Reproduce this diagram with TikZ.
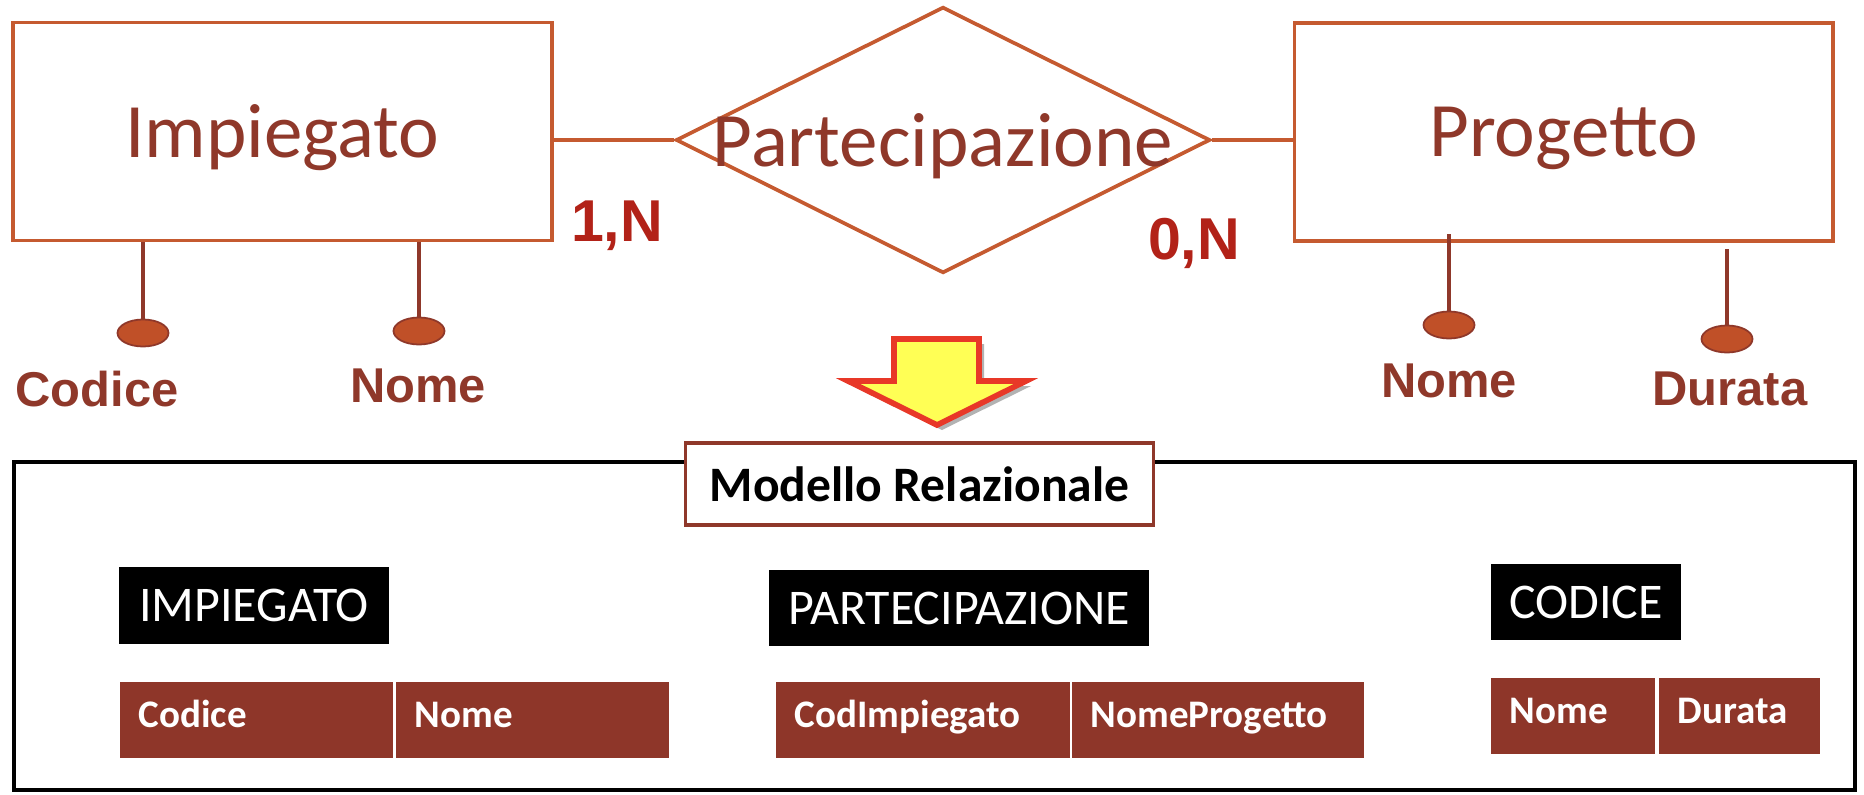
\documentclass[tikz,border=0pt]{standalone}
\usepackage{fontspec}
\setmainfont{Carlito}
\newfontfamily\arialfont{Liberation Sans}
\usetikzlibrary{shapes,positioning,calc,shadows}

\definecolor{erborder}{RGB}{197,90,48}
\definecolor{ertext}{RGB}{143,56,42}
\definecolor{cardred}{RGB}{178,34,24}
\definecolor{dotfill}{RGB}{192,80,40}
\definecolor{cellbrown}{RGB}{142,54,41}
\definecolor{arrowred}{RGB}{232,56,40}
\definecolor{arrowyellow}{RGB}{255,255,85}

% attribute: name, entity, x, y, label, label dx, label dy, line start shift
\newcommand{\attrib}[8]{
	\node[attr_dot] (#1) at (#3,#4) {};
	\draw[attr_line] (#1.north) -- ($(#1.north |- #2.south)+(0,#8)$);
	\node[attr_label] (#1_l) at ($(#1)+(#6,#7)$) {#5};
}

% table cell: name, x, y, width, text
\newcommand{\cella}[5]{
	\pgfmathsetlengthmacro{\cellw}{#4*0.01cm-0.38cm}
	\node[table_cell, text width=\cellw] (#1) at (#2,#3) {#5};
}

\begin{document}
\begin{tikzpicture}[x=0.01cm,y=-0.01cm,join=miter]
		\tikzstyle{entity}=[draw=erborder, line width=1.05pt, minimum width=5.38cm, minimum height=2.18cm, inner sep=0, text=ertext, font=\fontsize{21.9}{26}\selectfont, text depth=0pt];
		\tikzstyle{rel_shape}=[diamond, draw=erborder, line width=1.05pt, minimum width=5.34cm, minimum height=2.66cm, inner sep=0];
		\tikzstyle{rel_text}=[text=ertext, font=\fontsize{21.9}{26}\selectfont, text depth=0pt, inner sep=0];
		\tikzstyle{er_line}=[draw=erborder, line width=1.05pt];
		\tikzstyle{card_label}=[text=cardred, font=\arialfont\bfseries\fontsize{16.8}{20}\selectfont, inner sep=0];
		\tikzstyle{attr_dot}=[ellipse, draw=ertext, fill=dotfill, line width=0.5pt, minimum width=0.51cm, minimum height=0.27cm, inner sep=0];
		\tikzstyle{attr_line}=[draw=ertext, line width=1.3pt];
		\tikzstyle{attr_label}=[text=ertext, font=\arialfont\bfseries\fontsize{13.9}{16}\selectfont, inner sep=0];
		\tikzstyle{model_box}=[draw=ertext, line width=0.9pt, fill=white, minimum width=4.67cm, minimum height=0.82cm, inner sep=0, font=\bfseries\fontsize{14.1}{16}\selectfont, text depth=0pt];
		\tikzstyle{title_box}=[fill=black, text=white, minimum height=0.76cm, inner sep=0, font=\fontsize{14.2}{16}\selectfont, text depth=0pt];
		\tikzstyle{table_cell}=[anchor=north west, fill=cellbrown, text=white, minimum height=0.76cm, inner xsep=0.19cm, inner ysep=0, align=left, font=\bfseries\fontsize{11.1}{13}\selectfont, text height=0.25cm, text depth=0.09cm];
		\tikzstyle{frame_line}=[draw=black, line width=1.1pt];
		\tikzstyle{arrow_down}=[draw=arrowred, fill=arrowyellow, line width=1.6pt, drop shadow={shadow xshift=0.05cm, shadow yshift=-0.05cm, fill=black, opacity=0.3}];
		
		\useasboundingbox (0,0) rectangle (1864,794);
		
		% E-R schema
		\node[entity] (impiegato) at (282.5,131.5) {Impiegato};
		\node[entity] (progetto) at (1563.5,132) {Progetto};
		\node[rel_shape, label={[rel_text]center:Partecipazione}] (partecipazione) at (943,140) {};
		
		\draw[er_line] (impiegato.east |- partecipazione.west) -- (partecipazione.west);
		\draw[er_line] (partecipazione.east) -- (partecipazione.east -| progetto.west);
		
		\node[card_label] (card_imp) at (617,226) {1,N};
		\node[card_label] (card_prog) at (1194,243) {0,N};
		
		\attrib{codice}{impiegato}{143}{333}{Codice}{-46}{56}{0}
		\attrib{nome_imp}{impiegato}{419}{331}{Nome}{-1}{55}{0}
		\attrib{nome_prog}{progetto}{1449}{325}{Nome}{0}{55.5}{-9}
		\attrib{durata}{progetto}{1727}{339}{Durata}{3}{50}{6}
		
		% translation arrow
		\draw[arrow_down] (894,339) -- (979,339) -- (979,381) -- (1026,381) -- (937,425) -- (848,381) -- (894,381) -- cycle;
		
		% relational model
		\draw[frame_line] (14,462) rectangle (1855,790);
		\node[model_box] (modello) at (919.5,484) {Modello Relazionale};
		
		\node[title_box, minimum width=2.69cm] (t_impiegato) at (254,605.5) {IMPIEGATO};
		\node[title_box, minimum width=3.80cm] (t_partecipazione) at (959,608) {PARTECIPAZIONE};
		\node[title_box, minimum width=1.90cm] (t_codice) at (1586,602) {CODICE};
		
		\cella{c_codice}{119}{681}{273}{Codice}
		\cella{c_nome}{395}{681}{273}{Nome}
		\cella{c_codimp}{775}{681}{294}{CodImpiegato}
		\cella{c_nomeprog}{1071}{681}{292}{NomeProgetto}
		\cella{c_nome2}{1490}{677}{164}{Nome}
		\cella{c_durata}{1658}{677}{161}{Durata}
	\end{tikzpicture}
\end{document}
